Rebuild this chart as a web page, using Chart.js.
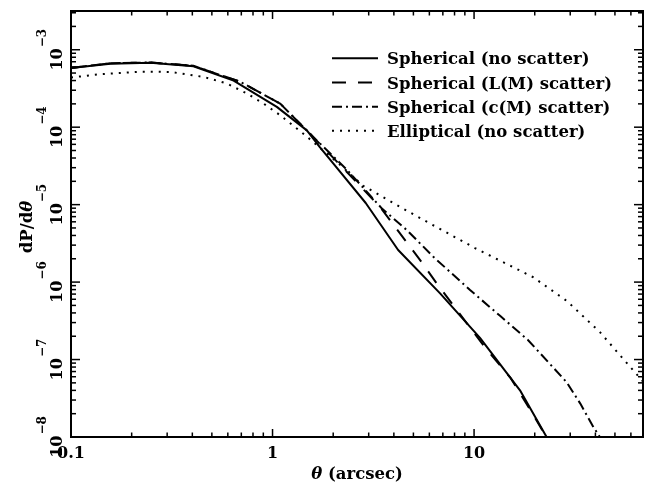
<!DOCTYPE html>
<html>
<head>
<meta charset="utf-8">
<script src="https://cdn.jsdelivr.net/npm/chart.js@4.4.1/dist/chart.umd.min.js"></script>
<style>
    html, body { margin: 0; padding: 0; background: #fff; }
    #wrap { width: 649px; height: 485px; }
</style>
</head>
<body>
<div id="wrap"><canvas id="myChart" width="649" height="485"></canvas></div>
<script>
// theta (arcsec) and dP/dtheta
const thetaSph = [0.1, 0.157, 0.248, 0.405, 0.641, 1.05, 1.48, 1.72, 2.0, 2.9, 4.2, 6.8, 10.7, 16.9, 22.9];
const dpSph    = [5.8e-4, 6.6e-4, 6.8e-4, 6.1e-4, 4.0e-4, 1.83e-4, 9.1e-5, 5.5e-5, 3.4e-5, 1.05e-5, 2.6e-6, 7.1e-7, 1.9e-7, 4.0e-8, 1.0e-8];

const thetaLM = [0.1, 0.157, 0.248, 0.405, 0.692, 1.09, 1.59, 2.29, 3.42, 5.40, 6.53, 11.6, 15.1, 19.7, 22.8];
const dpLM    = [5.8e-4, 6.7e-4, 6.85e-4, 6.2e-4, 3.85e-4, 2.02e-4, 7.5e-5, 2.79e-5, 9.3e-6, 1.92e-6, 9.6e-7, 1.33e-7, 5.9e-8, 1.92e-8, 1.0e-8];

const thetaCM = [0.1, 0.157, 0.248, 0.405, 0.692, 1.09, 1.59, 2.35, 3.49, 4.64, 6.28, 9.55, 13.5, 18.5, 28.8, 33.6, 39.0, 42.1];
const dpCM    = [5.8e-4, 6.7e-4, 6.85e-4, 6.2e-4, 3.85e-4, 2.02e-4, 7.5e-5, 2.79e-5, 8.9e-6, 4.69e-6, 2.12e-6, 7.9e-7, 3.64e-7, 1.79e-7, 5.1e-8, 2.72e-8, 1.36e-8, 1.0e-8];

const thetaEll = [0.1, 0.14, 0.221, 0.311, 0.455, 0.594, 0.746, 0.902, 1.09, 1.45, 2.17, 2.82, 4.30, 5.52, 10.1, 19.6, 28.9, 42.1, 61.4, 68.9];
const dpEll    = [4.38e-4, 4.83e-4, 5.2e-4, 5.17e-4, 4.46e-4, 3.66e-4, 2.72e-4, 2.02e-4, 1.43e-4, 7.9e-5, 3.24e-5, 1.75e-5, 9.3e-6, 6.5e-6, 2.75e-6, 1.16e-6, 5.69e-7, 2.26e-7, 7.33e-8, 5.2e-8];

const seriesNames = ['Spherical (no scatter)', 'Spherical (L(M) scatter)', 'Spherical (c(M) scatter)', 'Elliptical (no scatter)'];
const xTickValues = [0.1, 1, 10];
const xTickLabels = ['0.1', '1', '10'];
const yTickPowers = [-8, -7, -6, -5, -4, -3];

const FONT = 'bold 16.5px "DejaVu Serif"';
const TICKFONT = 'bold 16px "DejaVu Serif"';
const SUPFONT = 'bold 12px "DejaVu Serif"';
const ITFONT = 'bold italic 16.5px "DejaVu Serif"';

function pts(xs, ys) {
    return xs.map(function (v, i) { return { x: v, y: ys[i] }; });
}

function seg(ctx, x1, y1, x2, y2) {
    ctx.beginPath();
    ctx.moveTo(x1, y1);
    ctx.lineTo(x2, y2);
    ctx.stroke();
}

const framePlugin = {
    id: 'frame',
    beforeDraw(chart) {
        const ctx = chart.ctx;
        ctx.save();
        ctx.fillStyle = '#fff';
        ctx.fillRect(0, 0, chart.width, chart.height);
        ctx.restore();
    },
    afterDatasetsDraw(chart) {
        const ctx = chart.ctx;
        const a = chart.chartArea;
        const x = chart.scales.x;
        const y = chart.scales.y;
        ctx.save();
        ctx.strokeStyle = '#000';
        ctx.fillStyle = '#000';
        ctx.setLineDash([]);

        // ticks on all four sides, pointing inward
        ctx.lineWidth = 1.5;
        for (let d = -1; d <= 1; d++) {
            for (let m = 1; m <= 9; m++) {
                const v = m * Math.pow(10, d);
                if (v <= x.min * 1.001 || v >= x.max) continue;
                const px = x.getPixelForValue(v);
                const len = m === 1 ? 8 : 4.5;
                seg(ctx, px, a.bottom, px, a.bottom - len);
                seg(ctx, px, a.top, px, a.top + len);
            }
        }
        for (let d = -8; d <= -3; d++) {
            for (let m = 1; m <= 9; m++) {
                const v = m * Math.pow(10, d);
                if (v <= y.min * 1.001 || v >= y.max) continue;
                const py = y.getPixelForValue(v);
                const len = m === 1 ? 9 : 5;
                seg(ctx, a.left, py, a.left + len, py);
                seg(ctx, a.right, py, a.right - len, py);
            }
        }
        ctx.lineWidth = 2;
        ctx.strokeRect(a.left, a.top, a.right - a.left, a.bottom - a.top);

        // x tick labels
        ctx.font = TICKFONT;
        ctx.textAlign = 'center';
        ctx.textBaseline = 'alphabetic';
        xTickValues.forEach(function (v, i) {
            ctx.fillText(xTickLabels[i], x.getPixelForValue(v), a.bottom + 21);
        });

        // y tick labels, rotated, 10 with superscript
        yTickPowers.forEach(function (p) {
            const py = y.getPixelForValue(Math.pow(10, p));
            ctx.save();
            ctx.translate(a.left - 9, py);
            ctx.rotate(-Math.PI / 2);
            ctx.textAlign = 'left';
            ctx.font = TICKFONT;
            const w1 = ctx.measureText('10').width;
            ctx.font = SUPFONT;
            const sup = '\u2212' + Math.abs(p);
            const w2 = ctx.measureText(sup).width;
            const start = -(w1 + w2 + 1) / 2;
            ctx.font = TICKFONT;
            ctx.fillText('10', start, 0);
            ctx.font = SUPFONT;
            ctx.fillText(sup, start + w1 + 1, -16);
            ctx.restore();
        });

        // axis titles
        ctx.textAlign = 'left';
        ctx.font = ITFONT;
        const wTh = ctx.measureText('\u03b8').width;
        ctx.font = FONT;
        const wRest = ctx.measureText(' (arcsec)').width;
        const cx = (a.left + a.right) / 2;
        const sx = cx - (wTh + wRest) / 2;
        ctx.font = ITFONT;
        ctx.fillText('\u03b8', sx, 479);
        ctx.font = FONT;
        ctx.fillText(' (arcsec)', sx + wTh, 479);

        ctx.save();
        ctx.translate(32, 227);
        ctx.rotate(-Math.PI / 2);
        ctx.font = FONT;
        const wd = ctx.measureText('dP/d').width;
        ctx.font = ITFONT;
        const wt = ctx.measureText('\u03b8').width;
        const s0 = -(wd + wt) / 2;
        ctx.font = FONT;
        ctx.fillText('dP/d', s0, 0);
        ctx.font = ITFONT;
        ctx.fillText('\u03b8', s0 + wd, 0);
        ctx.restore();

        // legend
        const rows = [58.3, 82.5, 106.7, 130.8];
        chart.data.datasets.forEach(function (ds, i) {
            const ry = rows[i];
            ctx.save();
            ctx.lineWidth = ds.borderWidth;
            ctx.setLineDash(ds.borderDash || []);
            seg(ctx, 332, ry, 378, ry);
            ctx.restore();
            ctx.font = FONT;
            ctx.textAlign = 'left';
            ctx.fillText(ds.label, 387, ry + 6);
        });
        ctx.restore();
    }
};

document.addEventListener('DOMContentLoaded', function () {
    const ctx = document.getElementById('myChart').getContext('2d');
    new Chart(ctx, {
        type: 'line',
        data: {
            datasets: [{
                label: seriesNames[0],
                data: pts(thetaSph, dpSph),
                borderColor: '#000',
                borderWidth: 2,
                borderDash: []
            }, {
                label: seriesNames[1],
                data: pts(thetaLM, dpLM),
                borderColor: '#000',
                borderWidth: 2,
                borderDash: [14, 12]
            }, {
                label: seriesNames[2],
                data: pts(thetaCM, dpCM),
                borderColor: '#000',
                borderWidth: 2,
                borderDash: [10, 4, 2, 4]
            }, {
                label: seriesNames[3],
                data: pts(thetaEll, dpEll),
                borderColor: '#000',
                borderWidth: 2,
                borderDash: [2, 6]
            }]
        },
        options: {
            responsive: false,
            animation: false,
            devicePixelRatio: 1,
            layout: { padding: { left: 71, right: 6, top: 11, bottom: 48 } },
            elements: {
                point: { radius: 0 },
                line: { tension: 0, fill: false, borderCapStyle: 'butt', borderJoinStyle: 'round' }
            },
            plugins: {
                legend: { display: false },
                tooltip: { enabled: false }
            },
            scales: {
                x: { type: 'logarithmic', min: 0.1, max: 68.9, display: false },
                y: { type: 'logarithmic', min: 1e-8, max: Math.pow(10, -2.5), display: false }
            }
        },
        plugins: [framePlugin]
    });
});
</script>
</body>
</html>
